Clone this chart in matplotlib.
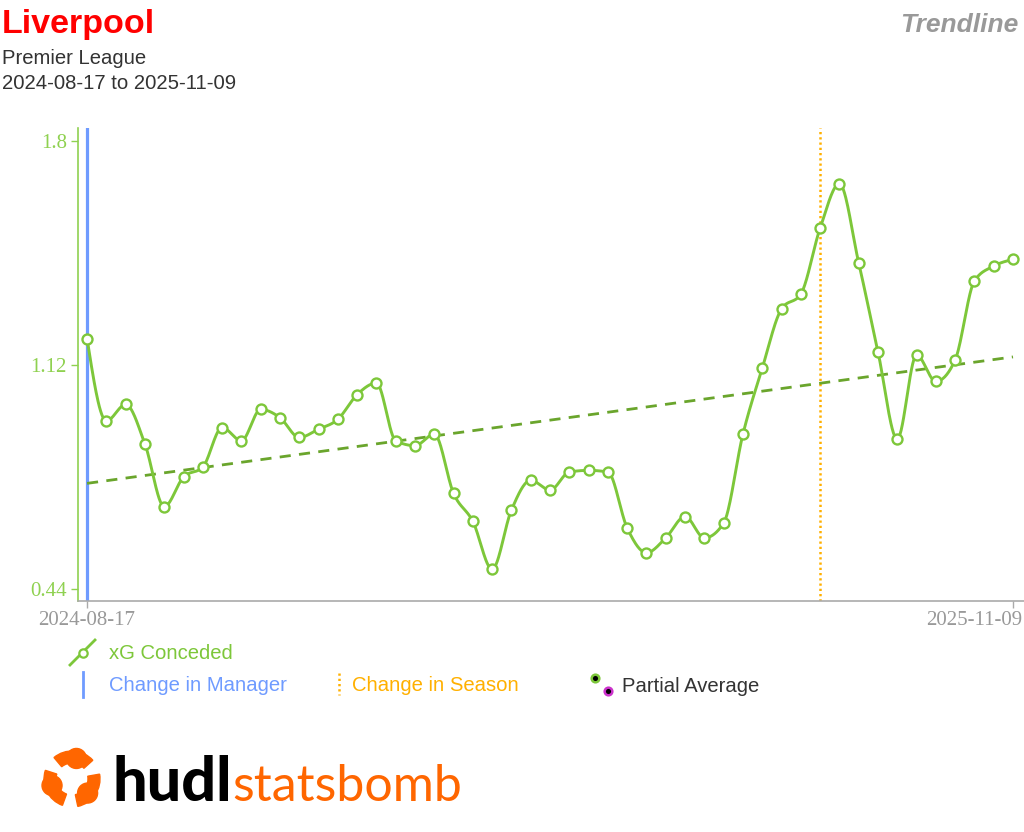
import matplotlib
matplotlib.use("Agg")
import matplotlib.pyplot as plt
import matplotlib.transforms as mtransforms
from matplotlib.lines import Line2D
from matplotlib.patches import Wedge, Circle
import numpy as np

# xG conceded per match (Premier League, 2024-08-17 .. 2025-11-09)
xg_conceded = [1.20, 0.95, 1.00, 0.88, 0.69, 0.78, 0.81, 0.93, 0.89, 0.985,
               0.96, 0.90, 0.925, 0.955, 1.03, 1.065, 0.89, 0.875, 0.91, 0.73,
               0.645, 0.50, 0.68, 0.77, 0.74, 0.795, 0.80, 0.795, 0.625, 0.55,
               0.595, 0.66, 0.595, 0.64, 0.91, 1.11, 1.29, 1.335, 1.535, 1.67,
               1.43, 1.16, 0.895, 1.15, 1.07, 1.135, 1.375, 1.42, 1.44]
first_date = "2024-08-17"
last_date = "2025-11-09"
manager_change_idx = 0
season_change_idx = 38
y_ticks = [0.44, 1.12, 1.8]
y_tick_labels = ["0.44", "1.12", "1.8"]

GREEN = "#7dc73a"
GREEN_AXIS = "#8fd150"
TREND = "#6aa52c"
BLUE = "#6f9bff"
ORANGE = "#ffb000"
W, H = 1024, 832


def fx(x):
    return x / W


def fy(y):
    return 1 - y / H


def monotone_curve(y, n=30):
    """d3 curveMonotoneX style interpolation"""
    y = np.asarray(y, dtype=float)
    x = np.arange(len(y), dtype=float)
    s = np.diff(y)  # h = 1
    t = np.zeros(len(y))
    for i in range(1, len(y) - 1):
        s0, s1 = s[i - 1], s[i]
        p = (s0 + s1) / 2
        t[i] = (np.sign(s0) + np.sign(s1)) * min(abs(s0), abs(s1), 0.5 * abs(p))
    t[0] = (3 * s[0] - t[1]) / 2
    t[-1] = (3 * s[-1] - t[-2]) / 2
    xs, ys = [], []
    for i in range(len(y) - 1):
        u = np.linspace(0, 1, n, endpoint=(i == len(y) - 2))
        h00 = 2 * u**3 - 3 * u**2 + 1
        h10 = u**3 - 2 * u**2 + u
        h01 = -2 * u**3 + 3 * u**2
        h11 = u**3 - u**2
        xs.append(x[i] + u)
        ys.append(h00 * y[i] + h10 * t[i] + h01 * y[i + 1] + h11 * t[i + 1])
    return np.concatenate(xs), np.concatenate(ys)


fig = plt.figure(figsize=(W / 100, H / 100), dpi=100)
ax = fig.add_axes([fx(78), fy(601), (W - 78) / W, (601 - 128) / H])

idx = np.arange(len(xg_conceded))
cx, cy = monotone_curve(xg_conceded)

# trend line
coef = np.polyfit(idx, xg_conceded, 1)
ax.plot([idx[0], idx[-1]], np.polyval(coef, [idx[0], idx[-1]]), color=TREND,
        lw=2.0, dashes=(4, 3), zorder=2)

ax.axvline(manager_change_idx, color=BLUE, lw=2.3, zorder=1)
ax.axvline(season_change_idx, color=ORANGE, lw=1.8, ls=(0, (0.9, 1.2)), zorder=1)

ax.plot(cx, cy, color=GREEN, lw=2.1, zorder=3)
ax.plot(idx, xg_conceded, ls="none", marker="o", ms=7.2, mfc="white",
        mec=GREEN, mew=1.7, zorder=4)

ax.set_xlim(-0.47, 48.57)
ax.set_ylim(0.4036, 1.839)

for side in ["top", "right"]:
    ax.spines[side].set_visible(False)
ax.spines["left"].set_color(GREEN_AXIS)
ax.spines["left"].set_linewidth(1.2)
ax.spines["bottom"].set_color("#aaaaaa")
ax.spines["bottom"].set_linewidth(1.2)

ax.set_yticks(y_ticks)
ax.set_yticklabels(y_tick_labels, family="Liberation Serif", fontsize=15,
                   color=GREEN_AXIS)
ax.tick_params(axis="y", colors=GREEN_AXIS, length=5, width=1, pad=3,
               labelcolor=GREEN_AXIS)
ax.set_xticks([idx[0], idx[-1]])
ax.set_xticklabels([first_date, last_date], family="Liberation Serif",
                   fontsize=15, color="#999999")
ax.tick_params(axis="x", colors="#aaaaaa", length=5, width=1, pad=2,
               labelcolor="#999999")
last_lbl = ax.get_xticklabels()[-1]
last_lbl.set_ha("right")
last_lbl.set_transform(last_lbl.get_transform() +
                       mtransforms.ScaledTranslation(0.09, 0, fig.dpi_scale_trans))

# header
fig.text(fx(2), fy(33), "Liverpool", color="#ff0000", fontsize=24.5,
         fontweight="bold", family="Liberation Sans", va="baseline")
fig.text(fx(2), fy(64), "Premier League", color="#333333", fontsize=14.6,
         family="Liberation Sans", va="baseline")
fig.text(fx(2), fy(89), first_date + " to " + last_date, color="#333333",
         fontsize=14.6, family="Liberation Sans", va="baseline")
fig.text(fx(1018), fy(32), "Trendline", color="#999999", fontsize=19,
         fontweight="bold", fontstyle="italic", family="Liberation Sans",
         va="baseline", ha="right")

# legend
tf = fig.transFigure
fig.add_artist(Line2D([fx(70), fx(95)], [fy(665), fy(640)], color=GREEN,
                      lw=2.0, transform=tf))
fig.add_artist(Line2D([fx(83)], [fy(653)], ls="none", marker="o", ms=6,
                      mfc="white", mec=GREEN, mew=1.6, transform=tf))
fig.text(fx(109), fy(659), "xG Conceded", color=GREEN, fontsize=14.6,
         family="Liberation Sans", va="baseline")

fig.add_artist(Line2D([fx(83), fx(83)], [fy(672), fy(697)], color=BLUE,
                      lw=2.0, transform=tf))
fig.text(fx(109), fy(691), "Change in Manager", color=BLUE, fontsize=14.6,
         family="Liberation Sans", va="baseline")

fig.add_artist(Line2D([fx(339), fx(339)], [fy(673), fy(695)], color=ORANGE,
                      lw=1.8, ls=(0, (0.9, 1.2)), transform=tf))
fig.text(fx(352), fy(691), "Change in Season", color=ORANGE, fontsize=14.6,
         family="Liberation Sans", va="baseline")

fig.add_artist(Line2D([fx(595)], [fy(678)], ls="none", marker="o", ms=5.5,
                      mfc="black", mec="#7dc73a", mew=1.8, transform=tf))
fig.add_artist(Line2D([fx(608)], [fy(691)], ls="none", marker="o", ms=5.5,
                      mfc="black", mec="#cc33cc", mew=1.8, transform=tf))
fig.text(fx(622), fy(692), "Partial Average", color="#333333", fontsize=14.6,
         family="Liberation Sans", va="baseline")

# logo
LOGO = "#ff6600"
lax = fig.add_axes([0, 0, 1, 1], facecolor="none")
lax.set_xlim(0, W)
lax.set_ylim(H, 0)
lax.axis("off")
c0 = (72, 779)
for a in [30, 150, 270]:
    lax.add_patch(Wedge(c0, 28, a - 40, a + 48, width=12, color=LOGO))
    ang = np.deg2rad(a + 48)
    lax.add_patch(Circle((c0[0] + 21 * np.cos(ang), c0[1] - 21 * np.sin(ang)),
                         10, color=LOGO))
lax.text(113, 801, "hudl", color="black", fontsize=44, fontweight="black",
         family="Lato", va="baseline")
lax.text(232, 801, "statsbomb", color=LOGO, fontsize=36, fontweight="normal",
         family="Lato", va="baseline")

fig.savefig("out.png", dpi=100)
